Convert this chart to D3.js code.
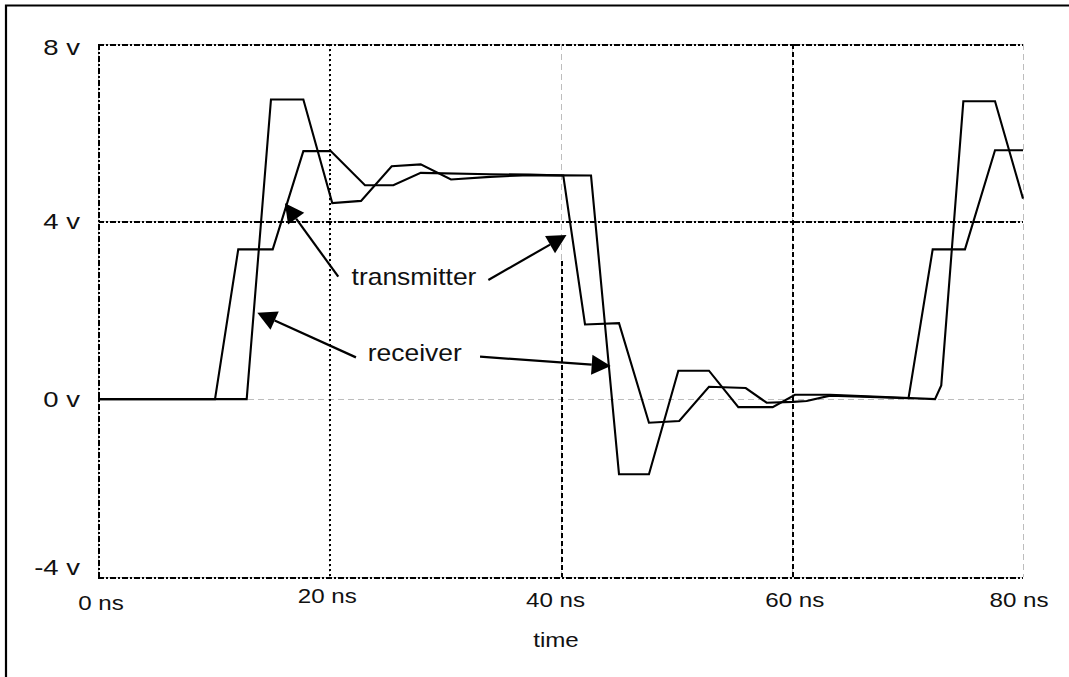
<!DOCTYPE html>
<html>
<head>
<meta charset="utf-8">
<script src="https://cdn.jsdelivr.net/npm/d3@7"></script>
<style>
  html, body { margin: 0; padding: 0; background: #fff; }
  svg { display: block; }
  text { font-family: "Liberation Sans", Arial, Helvetica, sans-serif; fill: #111; }
</style>
</head>
<body>
<svg id="chart" width="1069" height="677"></svg>
<script>
// ---- data (time in ns, voltage in V) ----
const transmitterTime = [0, 10.12, 12.13, 15.11, 17.76, 20.13, 23.09, 25.54, 27.91, 33.9, 37.36, 40.24, 42.12, 45.06, 47.65, 50.27, 52.84, 56.02, 57.83, 60.1, 61.29, 63.31, 70.1, 72.19, 74.98, 77.58, 80];
const transmitterVolts = [0, 0, 3.37, 3.37, 5.58, 5.58, 4.81, 4.81, 5.09, 5.06, 5.05, 5.03, 1.68, 1.71, -0.53, -0.49, 0.28, 0.25, -0.08, -0.06, -0.04, 0.08, 0.02, 3.37, 3.37, 5.6, 5.6];

const receiverTime = [0, 12.86, 14.96, 17.76, 20.26, 22.75, 25.4, 27.91, 30.53, 33.9, 37.36, 42.64, 45.06, 47.65, 50.19, 52.84, 55.38, 58.35, 60.28, 63.31, 72.39, 72.93, 74.84, 77.58, 80];
const receiverVolts = [0, 0, 6.74, 6.74, 4.41, 4.46, 5.24, 5.28, 4.94, 5.0, 5.04, 5.03, -1.69, -1.69, 0.64, 0.64, -0.18, -0.18, 0.1, 0.1, 0.0, 0.31, 6.7, 6.7, 4.51];

const xTicks = [0, 20, 40, 60, 80];
const xTickLabels = ["0 ns", "20 ns", "40 ns", "60 ns", "80 ns"];
const yTicks = [8, 4, 0, -4];
const yTickLabels = ["8 v", "4 v", "0 v", "-4 v"];
const xTitle = "time";

// annotations: label + arrows (from -> tip), in data units
const annLabels = ["transmitter", "receiver"];
const annLabelPos = [[21.93, 2.57], [23.33, 0.865]];
const annArrows = [
  [[20.78, 2.755], [16.17, 4.406]],
  [[33.76, 2.68], [40.52, 3.69]],
  [[22.31, 0.94], [13.78, 1.945]],
  [[33.04, 0.955], [44.34, 0.746]]
];

// ---- drawing ----
const svg = d3.select("#chart");
const x = d3.scaleLinear().domain([0, 80]).range([98, 1023]);
const y = d3.scaleLinear().domain([-4, 8]).range([577, 43.5]);

function stext(g, px, py, str, size, anchor, sx) {
  return g.append("text")
    .attr("transform", `translate(${px},${py}) scale(${sx || 1.15},1)`)
    .attr("text-anchor", anchor || "start")
    .attr("font-size", size).text(str);
}

// outer frame (only top and left visible)
svg.append("path")
  .attr("d", `M6,680 L6,5.5 L1075,5.5`)
  .attr("fill", "none").attr("stroke", "#000").attr("stroke-width", 2.2);

const grid = svg.append("g");
const [x0, x1] = x.range();
const [yb, yt] = y.range();

function gline(x1_, y1_, x2_, y2_, stroke, w, dash) {
  grid.append("line").attr("x1", x1_).attr("y1", y1_).attr("x2", x2_).attr("y2", y2_)
    .attr("stroke", stroke).attr("stroke-width", w)
    .attr("stroke-dasharray", dash).attr("shape-rendering", "crispEdges");
}
// horizontal gridlines
yTicks.forEach(v => {
  const yy = Math.round(y(v)) + 0.5;
  if (v === 0) {
    gline(x0, yy, x1, yy, "#bdbdbd", 1, "6,4");
  } else {
    gline(x0, yy, x1, yy, "#c8c8c8", 1, null);
    gline(x0, yy, x1, yy, "#000", 2, "6,2,2,2");
  }
});
// vertical gridlines
xTicks.forEach(t => {
  const xx = Math.round(x(t)) + 0.5;
  if (t === 0) {
    gline(xx, yt, xx, yb, "#c8c8c8", 1, null);
    gline(xx, yt, xx, yb, "#000", 2, "6,2,2,2");
  } else if (t === 80) {
    gline(xx, yt, xx, yb, "#bdbdbd", 1, "6,4");
  } else if (t === 20) {
    gline(xx, yt, xx, yb, "#bdbdbd", 1, "3,2");
    gline(xx, yt, xx, yb, "#000", 2, "2,3");
  } else if (t === 40) {
    const ym = y(3.1);
    gline(xx, yt, xx, ym, "#bdbdbd", 1, "6,4");
    gline(xx, ym, xx, yb, "#bdbdbd", 1, "3,2");
    gline(xx, ym, xx, yb, "#000", 2, "5,3");
  } else {
    gline(xx, yt, xx, yb, "#bdbdbd", 1, "3,2");
    gline(xx, yt, xx, yb, "#000", 2, "5,3");
  }
});

// tick labels
const lbl = svg.append("g");
yTicks.forEach((v, i) => {
  const off = i === 0 ? 11 : (i === yTicks.length - 1 ? -2 : 8);
  stext(lbl, 80, y(v) + off, yTickLabels[i], 22, "end", 1.25);
});
const xLabelShift = [3, -2, -5, 3, -4];
const xLabelBase = [610, 603, 607, 607, 607];
xTicks.forEach((t, i) => {
  stext(lbl, x(t) + xLabelShift[i], xLabelBase[i], xTickLabels[i], 21, "middle");
});
stext(lbl, 556, 647, xTitle, 21, "middle");

// series
const line = d3.line().x(d => x(d[0])).y(d => y(d[1]));
const series = [
  d3.zip(transmitterTime, transmitterVolts),
  d3.zip(receiverTime, receiverVolts)
];
svg.append("g").selectAll("path").data(series).join("path")
  .attr("d", line).attr("fill", "none").attr("stroke", "#000")
  .attr("stroke-width", 2.1).attr("stroke-linejoin", "miter");

// annotations
const ann = svg.append("g");
annLabels.forEach((s, i) => {
  stext(ann, x(annLabelPos[i][0]), y(annLabelPos[i][1]), s, 23, "start");
});
const headLen = 19, headHalf = 10;
annArrows.forEach(([from, tip]) => {
  const fx = x(from[0]), fy = y(from[1]);
  const tx = x(tip[0]), ty = y(tip[1]);
  const ang = Math.atan2(ty - fy, tx - fx);
  const bx = tx - headLen * Math.cos(ang), by = ty - headLen * Math.sin(ang);
  ann.append("line").attr("x1", fx).attr("y1", fy).attr("x2", bx).attr("y2", by)
    .attr("stroke", "#000").attr("stroke-width", 2.2);
  const px = -Math.sin(ang) * headHalf, py = Math.cos(ang) * headHalf;
  ann.append("path")
    .attr("d", `M${tx},${ty} L${bx + px},${by + py} L${bx - px},${by - py} Z`)
    .attr("fill", "#000");
});
</script>
</body>
</html>
